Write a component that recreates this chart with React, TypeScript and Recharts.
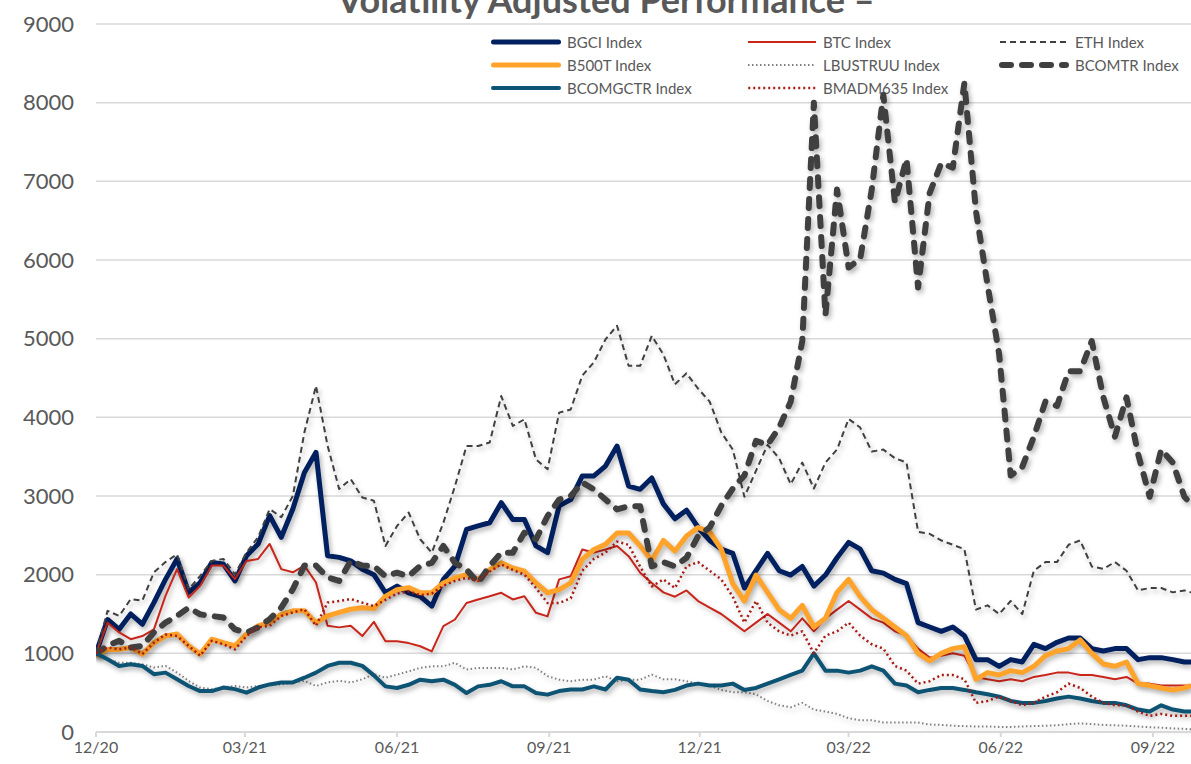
import { LineChart, Line, XAxis, YAxis, CartesianGrid } from "recharts";

const dates = [
  "2020-12-01", "2020-12-08", "2020-12-15", "2020-12-22", "2020-12-29", "2021-01-05", "2021-01-12", "2021-01-19",
  "2021-01-26", "2021-02-02", "2021-02-09", "2021-02-16", "2021-02-23", "2021-03-02", "2021-03-09", "2021-03-16",
  "2021-03-23", "2021-03-30", "2021-04-06", "2021-04-13", "2021-04-20", "2021-04-27", "2021-05-04", "2021-05-11",
  "2021-05-18", "2021-05-25", "2021-06-01", "2021-06-08", "2021-06-15", "2021-06-22", "2021-06-29", "2021-07-06",
  "2021-07-13", "2021-07-20", "2021-07-27", "2021-08-03", "2021-08-10", "2021-08-17", "2021-08-24", "2021-08-31",
  "2021-09-07", "2021-09-14", "2021-09-21", "2021-09-28", "2021-10-05", "2021-10-12", "2021-10-19", "2021-10-26",
  "2021-11-02", "2021-11-09", "2021-11-16", "2021-11-23", "2021-11-30", "2021-12-07", "2021-12-14", "2021-12-21",
  "2021-12-28", "2022-01-04", "2022-01-11", "2022-01-18", "2022-01-25", "2022-02-01", "2022-02-08", "2022-02-15",
  "2022-02-22", "2022-03-01", "2022-03-08", "2022-03-15", "2022-03-22", "2022-03-29", "2022-04-05", "2022-04-12",
  "2022-04-19", "2022-04-26", "2022-05-03", "2022-05-10", "2022-05-17", "2022-05-24", "2022-05-31", "2022-06-07",
  "2022-06-14", "2022-06-21", "2022-06-28", "2022-07-05", "2022-07-12", "2022-07-19", "2022-07-26", "2022-08-02",
  "2022-08-09", "2022-08-16", "2022-08-23", "2022-08-30", "2022-09-06", "2022-09-13", "2022-09-20", "2022-09-24",
];

const bgci = [
  1000, 1430, 1305, 1500, 1370, 1645, 1940, 2200, 1775, 1900, 2155, 2135, 1920, 2240, 2390, 2750, 2475, 2835, 3300, 3555, 2240, 2220, 2175, 2070, 2000,
  1770, 1855, 1770, 1725, 1600, 1940, 2110, 2575, 2620, 2660, 2915, 2700, 2700, 2365, 2280, 2875, 2955, 3255, 3255, 3380, 3635, 3125, 3085, 3230,
  2900, 2710, 2820, 2600, 2435, 2325, 2270, 1830, 2050, 2270, 2050, 1995, 2105, 1855, 1995, 2215, 2410, 2325, 2050, 2020, 1940, 1885, 1390, 1335,
  1280, 1335, 1225, 920, 920, 835, 920, 890, 1115, 1060, 1140, 1195, 1195, 1060, 1030, 1060, 1060, 920, 945, 945, 920, 890, 890,
];

const btc = [
  1000, 1390, 1265, 1180, 1220, 1305, 1730, 2070, 1710, 1860, 2115, 2115, 1945, 2175, 2200, 2390, 2070, 2030, 2115, 1900, 1350, 1330, 1350, 1220, 1400,
  1155, 1155, 1130, 1090, 1025, 1345, 1430, 1640, 1685, 1725, 1770, 1685, 1725, 1515, 1470, 1940, 1980, 2320, 2280, 2320, 2365, 2235, 2025, 1895,
  1775, 1720, 1800, 1665, 1580, 1500, 1390, 1280, 1390, 1500, 1390, 1280, 1445, 1280, 1445, 1555, 1665, 1555, 1445, 1390, 1280, 1225, 1060, 945,
  970, 1000, 970, 700, 670, 645, 670, 645, 700, 725, 755, 755, 725, 725, 700, 670, 700, 615, 615, 590, 590, 590, 590,
];

const eth = [
  1000, 1540, 1475, 1690, 1670, 2030, 2160, 2260, 1815, 1985, 2175, 2200, 2005, 2280, 2475, 2835, 2730, 3000, 3810, 4400, 3640, 3090, 3215, 2980, 2940,
  2365, 2620, 2790, 2450, 2280, 2660, 3125, 3635, 3635, 3680, 4270, 3890, 3975, 3465, 3340, 4060, 4100, 4530, 4700, 4990, 5165, 4655, 4655, 5035,
  4800, 4420, 4560, 4365, 4200, 3810, 3590, 2990, 3320, 3650, 3480, 3150, 3425, 3095, 3425, 3590, 3980, 3870, 3565, 3590, 3480, 3425, 2545, 2520,
  2435, 2380, 2325, 1555, 1610, 1500, 1665, 1500, 2050, 2160, 2160, 2380, 2435, 2105, 2075, 2160, 2050, 1800, 1830, 1830, 1775, 1800, 1775,
];

const b500t = [
  965, 1050, 1050, 1075, 990, 1135, 1220, 1245, 1095, 990, 1180, 1135, 1095, 1245, 1350, 1390, 1495, 1540, 1540, 1390, 1475, 1520, 1560, 1580, 1570,
  1725, 1810, 1835, 1770, 1770, 1895, 1960, 2000, 1940, 2065, 2150, 2085, 2045, 1895, 1770, 1810, 1895, 2195, 2320, 2385, 2530, 2530, 2365, 2180,
  2435, 2300, 2490, 2600, 2545, 2325, 1885, 1665, 1995, 1775, 1555, 1445, 1610, 1335, 1445, 1775, 1940, 1720, 1555, 1445, 1335, 1225, 1000, 905,
  1000, 1060, 1085, 670, 755, 725, 780, 755, 835, 970, 1030, 1060, 1170, 1000, 865, 835, 890, 615, 590, 560, 535, 560, 590,
];

const lbustruu = [
  1000, 925, 880, 880, 860, 820, 840, 755, 650, 565, 545, 565, 585, 565, 585, 605, 605, 630, 650, 585, 630, 650, 630, 670, 735,
  690, 730, 770, 815, 835, 835, 880, 795, 815, 815, 815, 795, 835, 815, 710, 665, 645, 665, 665, 710, 645, 665, 665, 730,
  670, 670, 645, 615, 590, 535, 505, 505, 480, 395, 340, 315, 370, 285, 260, 230, 175, 150, 150, 120, 120, 120, 120, 95,
  90, 80, 75, 70, 70, 65, 65, 70, 75, 80, 85, 100, 110, 100, 90, 85, 80, 70, 60, 55, 45, 40, 35,
];

const bcomtr = [
  1000, 1095, 1160, 1075, 1095, 1265, 1390, 1475, 1580, 1495, 1475, 1455, 1305, 1265, 1330, 1435, 1580, 1815, 2115, 2115, 1965, 1920, 2175, 2115, 2110,
  1980, 2025, 1980, 2110, 2150, 2365, 2150, 2065, 1895, 2110, 2280, 2280, 2535, 2450, 2745, 2955, 3000, 3170, 3085, 2955, 2830, 2870, 2870, 2105,
  2160, 2105, 2215, 2490, 2600, 2875, 3095, 3260, 3700, 3650, 3870, 4200, 4970, 8000, 5300, 6895, 5905, 6015, 6895, 8100, 6735, 7285, 5650, 6850,
  7230, 7175, 8250, 6620, 5685, 4805, 3260, 3370, 3755, 4200, 4145, 4585, 4585, 4970, 4255, 3755, 4255, 3535, 2990, 3590, 3425, 2990, 2900,
];

const bcomgctr = [
  1000, 925, 840, 860, 840, 735, 755, 670, 585, 520, 520, 565, 545, 500, 565, 605, 630, 630, 690, 755, 840, 880, 880, 840, 720,
  580, 560, 600, 665, 645, 665, 600, 495, 580, 600, 645, 580, 580, 495, 475, 520, 540, 540, 580, 540, 690, 665, 540, 520,
  505, 535, 590, 615, 590, 590, 615, 535, 560, 615, 670, 725, 780, 1000, 780, 780, 755, 780, 835, 780, 615, 590, 505, 535,
  560, 560, 535, 505, 480, 450, 395, 370, 370, 395, 425, 450, 425, 395, 370, 370, 340, 285, 260, 340, 285, 260, 260,
];

const bmadm635 = [
  1000, 1075, 1050, 1075, 990, 1135, 1240, 1220, 1095, 970, 1160, 1115, 1050, 1220, 1330, 1350, 1475, 1520, 1560, 1350, 1645, 1665, 1690, 1645, 1600,
  1680, 1760, 1790, 1740, 1760, 1860, 1920, 1960, 1920, 2040, 2130, 2060, 2000, 1830, 1640, 1640, 1700, 2050, 2200, 2280, 2420, 2380, 2100, 1850,
  1940, 1830, 2105, 2160, 2050, 1940, 1720, 1390, 1665, 1390, 1280, 1225, 1280, 1000, 1225, 1280, 1390, 1225, 1115, 1060, 840, 780, 615, 645,
  725, 725, 670, 370, 395, 450, 395, 340, 370, 450, 505, 615, 560, 450, 370, 340, 340, 260, 205, 230, 205, 205, 205,
];

const xTicks = ["2020-12-01", "2021-03-01", "2021-06-01", "2021-09-01", "2021-12-01", "2022-03-01", "2022-06-01", "2022-09-01"];
const yTicks = [0, 1000, 2000, 3000, 4000, 5000, 6000, 7000, 8000, 9000];

// series styles, in Excel's drawing order (first one at the bottom)
const series = [
  { key: "bgci", name: "BGCI Index", color: "#002060", width: 5, dash: undefined },
  { key: "btc", name: "BTC Index", color: "#C9261B", width: 2, dash: undefined },
  { key: "eth", name: "ETH Index", color: "#404040", width: 2, dash: "6 4" },
  { key: "b500t", name: "B500T Index", color: "#FFA32B", width: 5, dash: undefined },
  { key: "lbustruu", name: "LBUSTRUU Index", color: "#808080", width: 2, dash: "1.5 2.5" },
  { key: "bcomtr", name: "BCOMTR Index", color: "#404040", width: 6, dash: "9 11" },
  { key: "bcomgctr", name: "BCOMGCTR Index", color: "#0D5373", width: 4, dash: undefined },
  { key: "bmadm635", name: "BMADM635 Index", color: "#A61A12", width: 2.5, dash: "2 3" },
];

const rows = dates.map((d, i) => ({
  t: Date.parse(d),
  bgci: bgci[i],
  btc: btc[i],
  eth: eth[i],
  b500t: b500t[i],
  lbustruu: lbustruu[i],
  bcomtr: bcomtr[i],
  bcomgctr: bcomgctr[i],
  bmadm635: bmadm635[i],
}));

const fmtTick = (v: number) => {
  const d = new Date(v);
  const mm = String(d.getUTCMonth() + 1).padStart(2, "0");
  const yy = String(d.getUTCFullYear()).slice(2);
  return `${mm}/${yy}`;
};

const legendCols = [490, 746, 998];
const legendRows = [42, 65, 88];

const Legend3 = () => (
  <div style={{ position: "absolute", left: 0, top: 0, width: 1191, height: 110 }}>
    {series.map((s, i) => {
      const col = i % 3;
      const row = Math.floor(i / 3);
      const round = s.width >= 4 || s.key === "bcomtr";
      return (
        <div
          key={s.key}
          style={{
            position: "absolute",
            left: legendCols[col],
            top: legendRows[row] - 10,
            height: 20,
            display: "flex",
            alignItems: "center",
            whiteSpace: "nowrap",
          }}
        >
          <svg width={72} height={12} style={{ marginRight: 5 }}>
            <line
              x1={s.width / 2 + 1}
              x2={71 - s.width / 2}
              y1={6}
              y2={6}
              stroke={s.color}
              strokeWidth={s.width}
              strokeDasharray={s.dash}
              strokeLinecap={round ? "round" : "butt"}
            />
          </svg>
          <span style={{ fontSize: 15, color: "#595959" }}>{s.name}</span>
        </div>
      );
    })}
  </div>
);

const App = () => {
  return (
    <div
      style={{
        position: "absolute",
        left: 0,
        top: 0,
        width: 1191,
        height: 764,
        overflow: "hidden",
        background: "#fff",
        fontFamily: "Lato, 'Open Sans', sans-serif",
      }}
    >
      <style>{`.recharts-line .recharts-curve { filter: drop-shadow(2px 3px 2.5px rgba(0,0,0,0.3)); }`}</style>
      {/* title sits mostly above the frame, as in the source image */}
      <div
        style={{
          position: "absolute",
          left: 606,
          top: -19,
          transform: "translateX(-50%)",
          whiteSpace: "nowrap",
          fontSize: 36,
          lineHeight: "36px",
          fontWeight: 700,
          color: "#595959",
        }}
      >
        Volatility Adjusted Performance –
      </div>
      <Legend3 />
      <LineChart width={1191} height={764} data={rows} margin={{ top: 24, right: 0, bottom: 0, left: 0 }}>
        <CartesianGrid vertical={false} stroke="#d9d9d9" strokeWidth={1.5} />
        <XAxis
          dataKey="t"
          type="number"
          domain={[Date.parse(dates[0]), Date.parse(dates[dates.length - 1])]}
          ticks={xTicks.map((d) => Date.parse(d))}
          tickFormatter={fmtTick}
          height={32}
          stroke="#d9d9d9"
          axisLine={{ stroke: "#d9d9d9", strokeWidth: 2 }}
          tickLine={{ stroke: "#d9d9d9", strokeWidth: 2 }}
          tickSize={5}
          tickMargin={5}
          tick={{ fill: "#595959", fontSize: 16 }}
          allowDataOverflow
        />
        <YAxis
          domain={[0, 9000]}
          ticks={yTicks}
          width={96}
          axisLine={false}
          tickLine={false}
          tickSize={0}
          tickMargin={22}
          tick={{ fill: "#595959", fontSize: 22 }}
        />
        {series.map((s) => (
          <Line
            key={s.key}
            type="linear"
            dataKey={s.key}
            name={s.name}
            stroke={s.color}
            strokeWidth={s.width}
            strokeDasharray={s.dash}
            strokeLinecap={s.key === "bcomtr" ? "round" : "butt"}
            strokeLinejoin="round"
            dot={false}
            activeDot={false}
            isAnimationActive={false}
          />
        ))}
      </LineChart>
    </div>
  );
};

export default App;
